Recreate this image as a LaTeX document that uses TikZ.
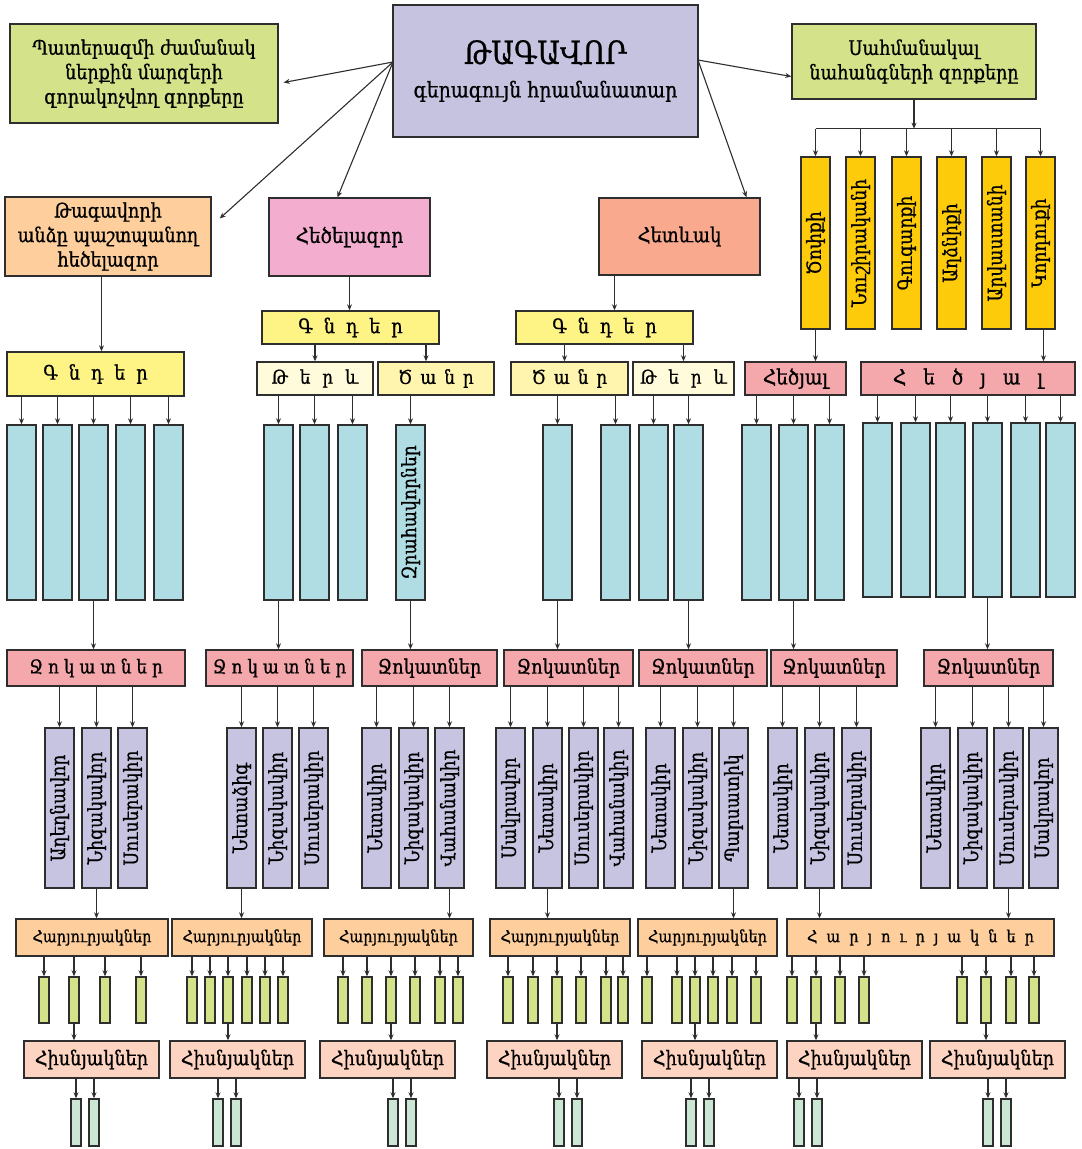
\documentclass[tikz,border=0pt]{standalone}
\usepackage{fontspec}
\setmainfont{DejaVu Serif}[FakeStretch=0.88,FakeBold=0.8]
\usepackage{tikz}
\usetikzlibrary{arrows.meta,positioning,calc}
\definecolor{linec}{HTML}{2E2E2E}
\definecolor{kingc}{HTML}{C6C3E0}
\definecolor{limec}{HTML}{D4E389}
\definecolor{peachc}{HTML}{FECF9D}
\definecolor{pinkc}{HTML}{F2ADCF}
\definecolor{salmc}{HTML}{F8A98E}
\definecolor{gndc}{HTML}{FEF385}
\definecolor{heavyc}{HTML}{FFF5AE}
\definecolor{lightc}{HTML}{FFFBDB}
\definecolor{goldc}{HTML}{FECB0B}
\definecolor{rosec}{HTML}{F5A8AB}
\definecolor{cyanc}{HTML}{AFDDE3}
\definecolor{purpc}{HTML}{C7C4E2}
\definecolor{fiftyc}{HTML}{FDD3C1}
\definecolor{mintc}{HTML}{CCE6D5}

\begin{document}
\begin{tikzpicture}[x=1pt,y=-1pt,
  box/.style={draw=linec,line width=1.4pt,inner sep=1pt,align=center,font=\fontsize{20}{24.5}\selectfont},
  cell/.style n args={4}{minimum width={(#3-#1)*1pt},minimum height={(#4-#2)*1pt},at={({(#1+#3)/2},{(#2+#4)/2})}},
  arr/.style={draw=linec,line width=1.1pt,-{Stealth[length=6pt,width=5pt]}},
  vtext/.style={rotate=90,font=\fontsize{19.5}{20}\selectfont,inner sep=0pt},
  wide/.style 2 args={font={\fontsize{#1}{22}\selectfont\spaceskip #2pt\relax}}]
\useasboundingbox (0,0) rectangle (1082,1149);

\node[box,fill=kingc,cell={393}{5}{698}{137}] (king) {{\fontsize{32}{34}\selectfont ԹԱԳԱՎՈՐ}\\[9pt]{\fontsize{21.5}{24}\selectfont գերագույն հրամանատար}};
\node[box,fill=limec,cell={10}{24}{278}{123}] (war) {Պատերազմի ժամանակ\\ներքին մարզերի\\զորակոչվող զորքերը};
\node[box,fill=limec,cell={792}{24}{1036}{99}] (border) {Սահմանակալ\\նահանգների զորքերը};
\node[box,fill=peachc,cell={5}{197}{211}{276}] (guard) {Թագավորի\\անձը պաշտպանող\\հեծելազոր};
\node[box,fill=pinkc,cell={269}{198}{430}{276},font=\fontsize{21}{24}\selectfont] (cav) {Հեծելազոր};
\node[box,fill=salmc,cell={599}{198}{760}{275},font=\fontsize{20.5}{24}\selectfont] (inf) {Հետևակ};

\coordinate (kL) at (393,62);
\coordinate (kR) at (698,60);
\draw[arr] (kL) -- ([xshift=5pt,yshift=-9pt]war.east);
\draw[arr] (kL) -- ([xshift=8pt,yshift=18pt]guard.east);
\draw[arr] (kL) -- ([xshift=-12pt]cav.north);
\draw[arr] (kR) -- ([yshift=-15pt]border.west);
\draw[arr] (kR) -- ([xshift=67pt]inf.north);

\foreach \n/\a/\w in {g1/801/Ծոփքի,g2/846/Նուշիրականի,g3/892/Գուգարքի,g4/937/Աղձնիքի,g5/982/Արվաստանի,g6/1026/Կորդուքի}
  \node[box,fill=goldc,cell={\a}{157}{(\a+29)}{329},label={[vtext]center:\w}] (\n) {};
\draw[arr] (border.south) -- ++(0,29) coordinate (bus);
\draw[draw=linec,line width=1.1pt] (g1.north |- bus) -- (g6.north |- bus);
\foreach \i in {1,...,6}
  \draw[arr] (g\i.north |- bus) -- (g\i.north);

\node[box,fill=gndc,wide={20}{11},cell={7}{352}{184}{396}] (reg1) {Գ ն դ ե ր};
\node[box,fill=gndc,wide={20}{11},cell={262}{311}{439}{344}] (reg2) {Գ ն դ ե ր};
\node[box,fill=gndc,wide={20}{11},cell={516}{311}{693}{344}] (reg3) {Գ ն դ ե ր};
\draw[arr] ([xshift=6pt]reg1.north |- guard.south) -- ([xshift=6pt]reg1.north);
\draw[arr] (cav.south) -- (cav.south |- reg2.north);
\draw[arr] ([xshift=10pt]reg3.north |- inf.south) -- ([xshift=10pt]reg3.north);

\node[box,fill=lightc,wide={19}{12},cell={257}{362}{373}{395}] (lt1) {Թ ե ր և};
\node[box,fill=heavyc,wide={19}{8},cell={378}{362}{494}{395}] (hv1) {Ծ ա ն ր};
\node[box,fill=heavyc,wide={19}{8},cell={511}{362}{628}{395}] (hv2) {Ծ ա ն ր};
\node[box,fill=lightc,wide={19}{12},cell={633}{362}{734}{395}] (lt2) {Թ ե ր և};
\node[box,fill=rosec,cell={745}{362}{846}{395},font=\fontsize{21}{24}\selectfont] (hr1) {Հեծյալ};
\node[box,fill=rosec,wide={21}{17},cell={861}{362}{1075}{395}] (hr2) {Հ ե ծ յ ա լ};
\draw[arr] (lt1.north |- reg2.south) -- (lt1.north);
\draw[arr] ([xshift=-10pt]hv1.north |- reg2.south) -- ([xshift=-10pt]hv1.north);
\draw[arr] ([xshift=-5pt]hv2.north |- reg3.south) -- ([xshift=-5pt]hv2.north);
\draw[arr] (lt2.north |- reg3.south) -- (lt2.north);
\draw[arr] (g1.south) -- (g1.south |- hr1.north);
\draw[arr] ([xshift=3pt]g6.south) -- ([xshift=3pt]g6.south |- hr2.north);

\foreach \n/\a in {c1/7,c2/43,c3/79,c4/116,c5/154,c6/264,c7/300,c8/338,c10/543,c11/601,c12/639,c13/674,c14/742,c15/779,c16/815}
  \node[box,fill=cyanc,cell={\a}{425}{(\a+29)}{600}] (\n) {};
\node[box,fill=cyanc,cell={396}{425}{425}{600},label={[vtext]center:Զրահավորներ}] (c9) {};
\foreach \n/\a in {c17/863,c18/901,c19/936,c20/973,c21/1011,c22/1046}
  \node[box,fill=cyanc,cell={\a}{423}{(\a+29)}{597}] (\n) {};
\foreach \p/\l in {reg1/{c1,c2,c3,c4,c5},lt1/{c6,c7,c8},hv1/{c9},hv2/{c10,c11},lt2/{c12,c13},hr1/{c14,c15,c16},hr2/{c17,c18,c19,c20,c21,c22}}
  \foreach \c in \l
    \draw[arr] (\c.north |- \p.south) -- (\c.north);

\node[box,fill=rosec,wide={19}{5},cell={7}{650}{185}{686}] (z1) {Ջ ո կ ա տ ն ե ր};
\node[box,fill=rosec,wide={19}{5},cell={206}{650}{353}{686}] (z2) {Ջ ո կ ա տ ն ե ր};
\foreach \n/\a/\b in {z3/362/497,z4/504/633,z5/639/767,z6/771/897,z7/924/1053}
  \node[box,fill=rosec,cell={\a}{650}{\b}{686}] (\n) {Ջոկատներ};
\foreach \c/\z in {c3/z1,c6/z2,c9/z3,c10/z4,c13/z5,c15/z6,c20/z7}
  \draw[arr] (\c.south) -- (\c.south |- \z.north);

\foreach \n/\a/\w in {p1/45/Աղեղնավոր,p2/82/Նիզակավոր,p3/118/Սուսերակիր,p4/227/Նետաձիգ,p5/263/Նիզակակիր,p6/299/Սուսերակիր,p7/362/Նետակիր,p8/399/Նիզակակիր,p9/435/Վահանակիր,p10/496/Սակրավոր,p11/533/Նետակիր,p12/569/Սուսերակիր,p13/604/Վահանակիր,p14/646/Նետակիր,p15/683/Նիզակակիր,p16/719/Պարսատիկ,p17/768/Նետակիր,p18/805/Նիզակակիր,p19/842/Սուսերակիր,p20/921/Նետակիր,p21/958/Նիզակակիր,p22/994/Սուսերակիր,p23/1029/Սակրավոր}
  \node[box,fill=purpc,cell={\a}{728}{(\a+29)}{888},label={[vtext]center:\w}] (\n) {};
\foreach \z/\l in {z1/{p1,p2,p3},z2/{p4,p5,p6},z3/{p7,p8,p9},z4/{p10,p11,p12,p13},z5/{p14,p15,p16},z6/{p17,p18,p19},z7/{p20,p21,p22,p23}}
  \foreach \p in \l
    \draw[arr] (\p.north |- \z.south) -- (\p.north);

\foreach \n/\a/\b in {h1/16/168,h2/172/312,h3/324/473,h4/490/630,h5/638/777}
  \node[box,fill=peachc,cell={\a}{919}{\b}{956},font=\fontsize{16.5}{18}\selectfont] (\n) {Հարյուրյակներ};
\node[box,fill=peachc,wide={16.5}{9},cell={787}{919}{1054}{956}] (h6) {Հ ա ր յ ո ւ ր յ ա կ ն ե ր};
\foreach \p/\h in {p2/h1,p4/h2,p9/h3,p11/h4,p16/h5,p18/h6,p22/h6}
  \draw[arr] (\p.south) -- (\p.south |- \h.north);

\foreach \h/\l in {h1/{44,74,105,141},h2/{192,210,228,247,265,283},h3/{343,367,391,415,440,458},h4/{508,533,557,581,606,623},h5/{647,677,695,713,732,756},h6/{792,816,840,864,962,986,1011,1034}}
  \foreach \x [count=\i] in \l {
    \node[box,fill=limec,cell={(\x-5)}{977}{(\x+5)}{1023}] (\h-\i) {};
    \draw[arr] (\h-\i.north |- \h.south) -- (\h-\i.north);
  }

\foreach \n/\a in {n1/24,n2/170,n3/320,n4/487,n5/642,n6/787,n7/930}
  \node[box,fill=fiftyc,cell={\a}{1041}{(\a+135)}{1078},font=\fontsize{20}{22}\selectfont] (\n) {Հիսնյակներ};
\foreach \s/\n in {h1-2/n1,h2-3/n2,h3-3/n3,h4-3/n4,h5-3/n5,h6-2/n6,h6-6/n7}
  \draw[arr] (\s.south) -- (\s.south |- \n.north);

\foreach \n/\l in {n1/{76,94},n2/{218,236},n3/{393,411},n4/{559,577},n5/{691,709},n6/{799,817},n7/{988,1006}}
  \foreach \x [count=\i] in \l {
    \node[box,fill=mintc,cell={(\x-5)}{1099}{(\x+5)}{1146}] (\n-\i) {};
    \draw[arr] (\n-\i.north |- \n.south) -- (\n-\i.north);
  }
\end{tikzpicture}
\end{document}
